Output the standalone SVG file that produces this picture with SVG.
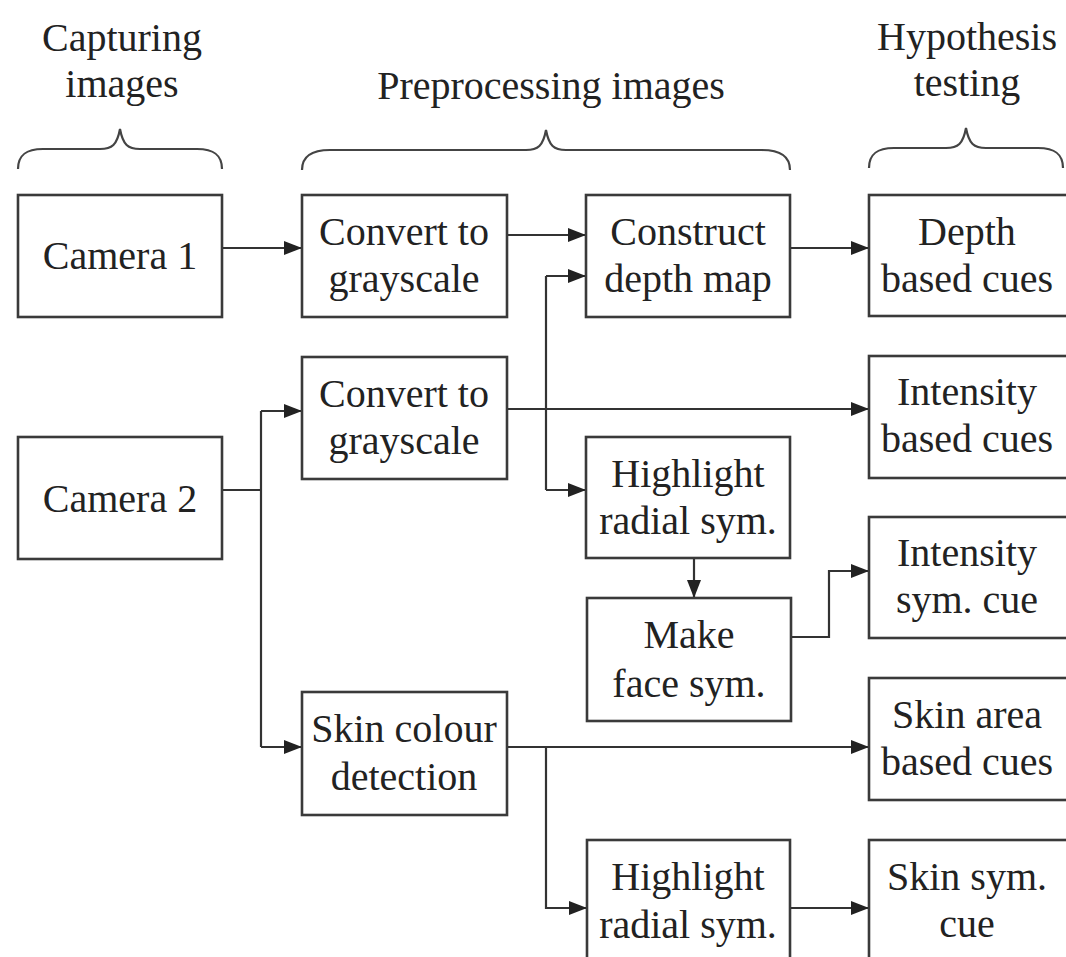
<svg xmlns="http://www.w3.org/2000/svg" width="1066" height="957" viewBox="0 0 1066 957">
  <defs>
    <style>
      .box { fill: #ffffff; stroke: #3a3a3a; stroke-width: 2.6; }
      .lbl { font-family: "Liberation Serif", "Times New Roman", serif; font-size: 40px; fill: #222222; text-anchor: middle; }
      .wire { fill: none; stroke: #333333; stroke-width: 2.2; }
      .arr { fill: none; stroke: #333333; stroke-width: 2.2; marker-end: url(#head); }
      .brace { fill: none; stroke: #444444; stroke-width: 2.2; }
    </style>
    <marker id="head" viewBox="0 0 18 14" refX="18" refY="7" markerWidth="18" markerHeight="14" markerUnits="userSpaceOnUse" orient="auto">
      <path d="M0,0 L18,7 L0,14 Z" fill="#222222"/>
    </marker>
  </defs>

  <rect width="1066" height="957" fill="#ffffff"/>

  <!-- stage headings -->
  <g id="headings">
    <text class="lbl" x="122" y="51">Capturing</text>
    <text class="lbl" x="122" y="97">images</text>
    <text class="lbl" x="551" y="99">Preprocessing images</text>
    <text class="lbl" x="967" y="50">Hypothesis</text>
    <text class="lbl" x="967" y="96">testing</text>
  </g>

  <!-- curly braces over each stage -->
  <g id="braces">
    <path class="brace" d="M18,169 C18,155 26,149 43,149 L100,149 C112,149 117,145 120,129 C123,145 128,149 140,149 L197,149 C214,149 222,155 222,169"/>
    <path class="brace" d="M302,170 C302,156 312,150 330,150 L526,150 C538,150 543,146 546,130 C549,146 554,150 566,150 L762,150 C780,150 790,156 790,170"/>
    <path class="brace" d="M869,168 C869,154 877,148 894,148 L946,148 C958,148 963,144 966,128 C969,144 974,148 986,148 L1038,148 C1055,148 1063,154 1063,168"/>
  </g>

  <!-- connectors -->
  <g id="connectors">
    <line class="arr" x1="222" y1="248" x2="302" y2="248"/>
    <line class="arr" x1="507" y1="235" x2="586" y2="235"/>
    <line class="arr" x1="790" y1="248" x2="869" y2="248"/>

    <polyline class="wire" points="222,490 261,490"/>
    <line class="wire" x1="261" y1="411" x2="261" y2="747"/>
    <line class="arr" x1="261" y1="411" x2="302" y2="411"/>
    <line class="arr" x1="261" y1="747" x2="302" y2="747"/>

    <line class="arr" x1="507" y1="409" x2="869" y2="409"/>
    <line class="wire" x1="546" y1="276" x2="546" y2="490"/>
    <line class="arr" x1="546" y1="276" x2="586" y2="276"/>
    <line class="arr" x1="546" y1="490" x2="586" y2="490"/>

    <line class="arr" x1="694" y1="558" x2="694" y2="598"/>
    <polyline class="arr" points="791,637 829,637 829,571 869,571"/>

    <line class="arr" x1="507" y1="747" x2="869" y2="747"/>
    <polyline class="arr" points="546,747 546,908 587,908"/>
    <line class="arr" x1="790" y1="908" x2="869" y2="908"/>
  </g>

  <!-- capture -->
  <g id="camera1">
    <rect class="box" x="18" y="195" width="204" height="122"/>
    <text class="lbl" x="120" y="269">Camera 1</text>
  </g>
  <g id="camera2">
    <rect class="box" x="18" y="437" width="204" height="122"/>
    <text class="lbl" x="120" y="512">Camera 2</text>
  </g>

  <!-- preprocessing -->
  <g id="gray1">
    <rect class="box" x="302" y="195" width="205" height="122"/>
    <text class="lbl" x="404" y="245">Convert to</text>
    <text class="lbl" x="404" y="292">grayscale</text>
  </g>
  <g id="gray2">
    <rect class="box" x="302" y="357" width="205" height="122"/>
    <text class="lbl" x="404" y="407">Convert to</text>
    <text class="lbl" x="404" y="454">grayscale</text>
  </g>
  <g id="skin-detect">
    <rect class="box" x="302" y="692" width="205" height="123"/>
    <text class="lbl" x="404" y="742">Skin colour</text>
    <text class="lbl" x="404" y="790">detection</text>
  </g>
  <g id="depth-map">
    <rect class="box" x="586" y="195" width="204" height="122"/>
    <text class="lbl" x="688" y="245">Construct</text>
    <text class="lbl" x="688" y="292">depth map</text>
  </g>
  <g id="radial1">
    <rect class="box" x="586" y="437" width="204" height="121"/>
    <text class="lbl" x="688" y="487">Highlight</text>
    <text class="lbl" x="688" y="534">radial sym.</text>
  </g>
  <g id="face-sym">
    <rect class="box" x="587" y="598" width="204" height="123"/>
    <text class="lbl" x="689" y="648">Make</text>
    <text class="lbl" x="689" y="697">face sym.</text>
  </g>
  <g id="radial2">
    <rect class="box" x="587" y="840" width="203" height="130"/>
    <text class="lbl" x="688" y="890">Highlight</text>
    <text class="lbl" x="688" y="938">radial sym.</text>
  </g>

  <!-- hypothesis cues -->
  <g id="depth-cues">
    <rect class="box" x="869" y="195" width="220" height="121"/>
    <text class="lbl" x="967" y="245">Depth</text>
    <text class="lbl" x="967" y="292">based cues</text>
  </g>
  <g id="intensity-cues">
    <rect class="box" x="869" y="356" width="220" height="122"/>
    <text class="lbl" x="967" y="405">Intensity</text>
    <text class="lbl" x="967" y="452">based cues</text>
  </g>
  <g id="intensity-sym">
    <rect class="box" x="869" y="517" width="220" height="121"/>
    <text class="lbl" x="967" y="566">Intensity</text>
    <text class="lbl" x="967" y="613">sym. cue</text>
  </g>
  <g id="skin-area">
    <rect class="box" x="869" y="678" width="220" height="122"/>
    <text class="lbl" x="967" y="728">Skin area</text>
    <text class="lbl" x="967" y="775">based cues</text>
  </g>
  <g id="skin-sym">
    <rect class="box" x="869" y="840" width="220" height="130"/>
    <text class="lbl" x="967" y="890">Skin sym.</text>
    <text class="lbl" x="967" y="937">cue</text>
  </g>
</svg>
